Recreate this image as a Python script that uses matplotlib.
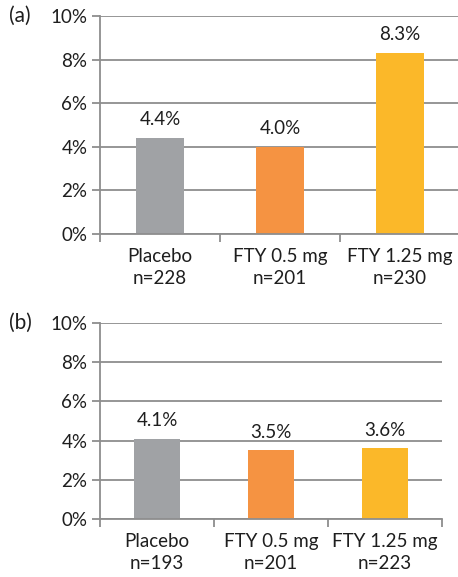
import matplotlib
matplotlib.use("Agg")
import matplotlib.pyplot as plt
from matplotlib.ticker import FuncFormatter

plt.rcParams['font.family'] = ['Lato', 'DejaVu Sans']

groups = ["Placebo", "FTY 0.5 mg", "FTY 1.25 mg"]
n_a = [228, 201, 230]
n_b = [193, 201, 223]
values_a = [4.4, 4.0, 8.3]
values_b = [4.1, 3.5, 3.6]
yticks = [0, 2, 4, 6, 8, 10]
colors = ["#A0A2A5", "#F59342", "#FBB829"]

W, H = 458, 577
fig = plt.figure(figsize=(W / 100, H / 100), dpi=100)
fig.patch.set_facecolor("white")

grid_c = "#8E8E8E"
text_c = "#1E1E1E"
fs = 13.5


def panel(rect, values, ns, tag):
    ax = fig.add_axes(rect)
    x = list(range(len(values)))
    ax.bar(x, values, width=0.4, color=colors, zorder=3)
    ax.set_xlim(-0.5, len(values) - 0.5)
    ax.set_ylim(0, 10)
    ax.set_yticks(yticks)
    ax.yaxis.set_major_formatter(FuncFormatter(lambda v, p: f"{v:.0f}%"))
    ax.grid(axis="y", color=grid_c, linewidth=1.3, zorder=0)
    for s in ["top", "right"]:
        ax.spines[s].set_visible(False)
    for s in ["left", "bottom"]:
        ax.spines[s].set_color(grid_c)
        ax.spines[s].set_linewidth(1.3)
        ax.spines[s].set_zorder(4)
    ax.tick_params(axis="y", length=6, width=1.3, color=grid_c,
                   labelsize=fs, labelcolor=text_c, pad=3)
    ax.set_xticks(x)
    ax.set_xticklabels([f"{g}\nn={n}" for g, n in zip(groups, ns)],
                       fontsize=fs, color=text_c, linespacing=1.35)
    ax.tick_params(axis="x", length=0, pad=10)
    ax.set_xticks([i + 0.5 for i in range(-1, len(values))], minor=True)
    ax.tick_params(axis="x", which="minor", length=6, width=1.3, color=grid_c)
    for xi, v in zip(x, values):
        ax.annotate(f"{v:.1f}%", (xi, v), xytext=(0, 7), textcoords="offset points",
                    ha="center", va="bottom", fontsize=fs, color=text_c)
    fig.text(9 / W, rect[1] + rect[3], tag, fontsize=15, color=text_c,
             ha="left", va="center")
    return ax


panel([100 / W, 1 - 234 / H, 360 / W, 218 / H], values_a, n_a, "(a)")
panel([100 / W, 1 - 519 / H, 342 / W, 196 / H], values_b, n_b, "(b)")

fig.savefig("out.png", dpi=100, facecolor="white")
